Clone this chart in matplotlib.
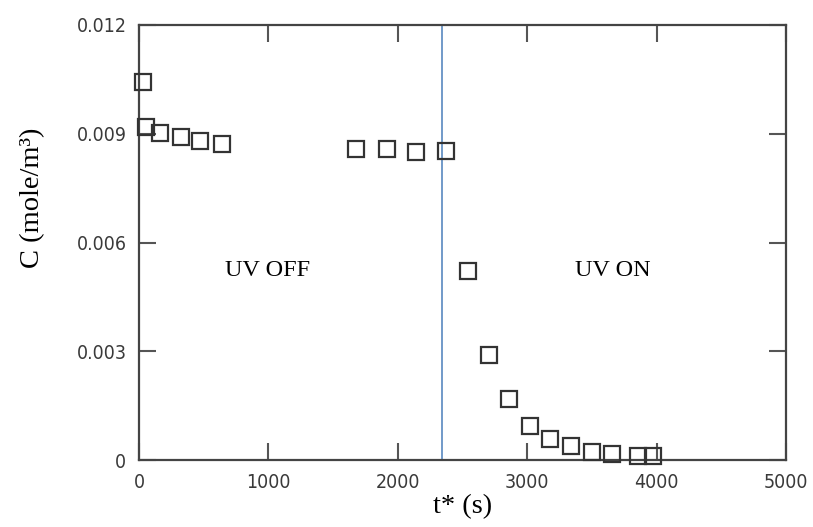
import matplotlib
matplotlib.use("Agg")
import matplotlib.pyplot as plt

t_s = [30, 54, 162, 321, 471, 641, 1677, 1917, 2144, 2372,
       2546, 2705, 2859, 3025, 3180, 3338, 3497, 3659, 3860, 3976]
conc = [0.01043, 0.00920, 0.00902, 0.00890, 0.00881, 0.00873, 0.00858, 0.00858, 0.00851, 0.00852,
        0.00521, 0.00291, 0.00168, 0.00094, 0.00058, 0.00040, 0.00023, 0.00017, 0.00012, 0.00012]
uv_switch = 2345
x_ticks = [0, 1000, 2000, 3000, 4000, 5000]
y_ticks = [0, 0.003, 0.006, 0.009, 0.012]
y_tick_labels = ["0", "0.003", "0.006", "0.009", "0.012"]

fig = plt.figure(figsize=(8.13, 5.27), dpi=100)
ax = fig.add_axes([139/813, 67/527, 647/813, 435/527])

ax.plot(t_s, conc, linestyle="none", marker="s", markersize=12,
        markerfacecolor="none", markeredgecolor="#333333", markeredgewidth=1.6,
        clip_on=False, zorder=3)
ax.axvline(uv_switch, color="#4a7ebb", linewidth=1.1, zorder=2)

ax.set_xlim(0, 5000)
ax.set_ylim(0, 0.012)
ax.set_xticks(x_ticks)
ax.set_xticklabels([str(v) for v in x_ticks])
ax.set_yticks(y_ticks)
ax.set_yticklabels(y_tick_labels)

ax.tick_params(direction="in", length=12, width=1.5, color="#555555",
               top=True, right=True, labelsize=14, labelcolor="#3a3a3a", pad=9)
for lab in ax.get_xticklabels() + ax.get_yticklabels():
    lab.set_family(["DejaVu Sans"])
    lab.set_fontstretch("condensed")

for sp in ax.spines.values():
    sp.set_linewidth(1.6)
    sp.set_color("#444444")

serif = ["Liberation Serif", "DejaVu Serif"]
ax.set_xlabel("t* (s)", fontsize=20.5, family=serif, labelpad=2)
ax.set_ylabel("C (mole/m³)", fontsize=20.5, family=serif)
ax.yaxis.set_label_coords(-0.145, 0.602)

ax.text(990, 0.00524, "UV OFF", fontsize=17.5, family=serif, ha="center", va="center")
ax.text(3660, 0.00524, "UV ON", fontsize=17.5, family=serif, ha="center", va="center")

fig.savefig("out.png", dpi=100)
